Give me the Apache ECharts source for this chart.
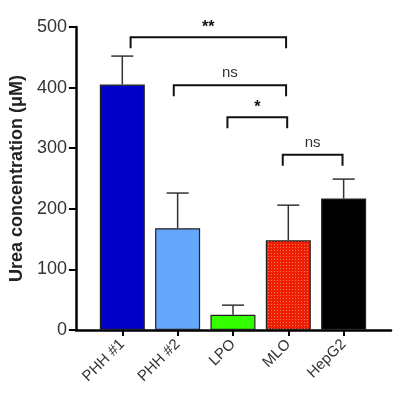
<!DOCTYPE html>
<html>
<head>
<meta charset="utf-8">
<script src="https://cdn.jsdelivr.net/npm/echarts@6/dist/echarts.min.js"></script>
<style>html,body{margin:0;padding:0;background:#fff;}#c{width:400px;height:405px;}</style>
</head>
<body>
<div id="c"></div>
<script>
const categories = ['PHH #1', 'PHH #2', 'LPO', 'MLO', 'HepG2'];
const means = [405, 168, 25, 148, 217];
const sems = [47, 58, 16, 58, 32];
const yTicks = [0, 100, 200, 300, 400, 500];
const bracketFrom = [0.15, 0.93, 1.9, 2.9];
const bracketTo = [2.96, 2.96, 2.98, 3.98];
const bracketLevel = [483, 404, 351, 289];
const bracketLabel = ['**', 'ns', '*', 'ns'];

const barColors = ['#0000c8', '#64a7fd', '#33ff00', 'PATTERN', '#000000'];

function makePattern() {
  const cv = document.createElement('canvas');
  cv.width = 3; cv.height = 3;
  const ctx = cv.getContext('2d');
  ctx.fillStyle = '#f01e00';
  ctx.fillRect(0, 0, 3, 3);
  ctx.fillStyle = '#f57a66';
  ctx.fillRect(1, 1, 1, 1);
  return { image: cv, repeat: 'repeat' };
}
const pattern = makePattern();

const chart = echarts.init(document.getElementById('c'), null, { renderer: 'canvas' });
const font = 'Arial, "Liberation Sans", sans-serif';

const option = {
  animation: false,
  backgroundColor: '#fff',
  grid: { left: 75, right: 9, top: 27, bottom: 75, containLabel: false },
  xAxis: {
    type: 'value',
    min: -0.838,
    max: 4.856,
    splitLine: { show: false },
    axisLine: { show: true, onZero: false, lineStyle: { color: '#000', width: 2.5 } },
    axisTick: { show: true, customValues: [0, 1, 2, 3, 4], length: 6, lineStyle: { color: '#000', width: 2 } },
    axisLabel: {
      customValues: [0, 1, 2, 3, 4],
      formatter: v => categories[Math.round(v)] || '',
      rotate: 45, margin: 12,
      fontSize: 15, color: '#333', fontFamily: font
    }
  },
  yAxis: {
    type: 'value',
    min: yTicks[0], max: yTicks[yTicks.length - 1], interval: 100,
    name: 'Urea concentration (\u03bcM)',
    nameLocation: 'middle', nameGap: 47,
    nameTextStyle: { fontSize: 18, fontWeight: 'bold', color: '#222', fontFamily: font },
    splitLine: { show: false },
    axisLine: { show: true, onZero: false, lineStyle: { color: '#000', width: 2.5 } },
    axisTick: { show: true, length: 7, lineStyle: { color: '#000', width: 2 } },
    axisLabel: { fontSize: 18, color: '#333', margin: 9, fontFamily: font }
  },
  series: [
    {
      type: 'bar',
      barWidth: 45,
      data: means.map((v, i) => ({
        value: [i, v],
        itemStyle: { color: barColors[i] === 'PATTERN' ? pattern : barColors[i], borderColor: '#222', borderWidth: 1.2 }
      })),
      z: 2
    },
    {
      type: 'custom',
      z: 3,
      data: means.map((v, i) => [i, v, sems[i]]),
      renderItem: function (params, api) {
        const x = api.value(0), m = api.value(1), e = api.value(2);
        const p0 = api.coord([x, m]);
        const p1 = api.coord([x, m + e]);
        const st = { stroke: '#333', lineWidth: 1.5 };
        return {
          type: 'group',
          children: [
            { type: 'line', shape: { x1: p0[0], y1: p0[1], x2: p1[0], y2: p1[1] }, style: st },
            { type: 'line', shape: { x1: p1[0] - 11, y1: p1[1], x2: p1[0] + 11, y2: p1[1] }, style: st }
          ]
        };
      }
    },
    {
      type: 'custom',
      z: 4,
      data: bracketFrom.map((f, i) => [f, bracketTo[i], bracketLevel[i], i]),
      renderItem: function (params, api) {
        const a = api.coord([api.value(0), api.value(2)]);
        const b = api.coord([api.value(1), api.value(2)]);
        const idx = api.value(3);
        const lab = bracketLabel[idx];
        const isStar = lab.indexOf('*') >= 0;
        return {
          type: 'group',
          children: [
            {
              type: 'polyline',
              shape: { points: [[a[0], a[1] + 11], [a[0], a[1]], [b[0], b[1]], [b[0], b[1] + 11]] },
              style: { stroke: '#111', lineWidth: 2, fill: null }
            },
            {
              type: 'text',
              x: (a[0] + b[0]) / 2,
              y: a[1] - (isStar ? 2 : 5),
              style: {
                text: lab,
                fill: isStar ? '#111' : '#333',
                font: (isStar ? 'bold 16px ' : '15px ') + font,
                align: 'center',
                verticalAlign: 'bottom'
              }
            }
          ]
        };
      }
    }
  ]
};
chart.setOption(option);
</script>
</body>
</html>
